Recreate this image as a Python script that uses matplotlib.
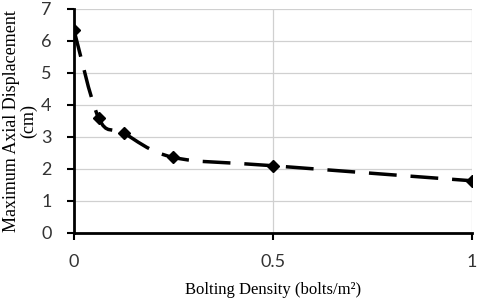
import numpy as np
import matplotlib
matplotlib.use("Agg")
import matplotlib.pyplot as plt
from matplotlib.path import Path
from matplotlib.patches import PathPatch

# bolting density (bolts/m^2) vs maximum axial displacement (cm)
density = [0, 0.0625, 0.125, 0.25, 0.5, 1.0]
displacement = [6.35, 3.58, 3.12, 2.36, 2.10, 1.63]

x_ticks = [0, 0.5, 1]
y_ticks = [0, 1, 2, 3, 4, 5, 6, 7]


def smooth_path(xs, ys, t=1/6):
    # Excel-style smoothed line as cubic bezier segments
    xs = np.asarray(xs, float)
    ys = np.asarray(ys, float)
    n = len(xs)
    verts = [(xs[0], ys[0])]
    codes = [Path.MOVETO]
    for i in range(n - 1):
        p0 = i - 1 if i > 0 else i
        p3 = i + 2 if i + 2 < n else i + 1
        c1 = (xs[i] + (xs[i + 1] - xs[p0]) * t, ys[i] + (ys[i + 1] - ys[p0]) * t)
        c2 = (xs[i + 1] - (xs[p3] - xs[i]) * t, ys[i + 1] - (ys[p3] - ys[i]) * t)
        verts += [c1, c2, (xs[i + 1], ys[i + 1])]
        codes += [Path.CURVE4] * 3
    return Path(verts, codes)


fig = plt.figure(figsize=(4.8, 2.99), dpi=100)
ax = fig.add_axes([0.154, 0.221, 0.829, 0.749])

patch = PathPatch(smooth_path(density, displacement), facecolor="none",
                  edgecolor="black", lw=2.5, linestyle=(0, (8, 4)),
                  capstyle="butt", zorder=3)
ax.add_patch(patch)
ax.plot(density, displacement, linestyle="none", marker="D", ms=6.5,
        color="black", zorder=4)

ax.set_xlim(0, 1)
ax.set_ylim(0, 7)
ax.set_xticks(x_ticks)
ax.set_xticklabels(["0", "0.5", "1"])
ax.set_yticks(y_ticks)

ax.grid(True, color="#d0d0d0", lw=0.9)
ax.set_axisbelow(True)
for s in ["top", "right"]:
    ax.spines[s].set_visible(False)
for s in ["left", "bottom"]:
    ax.spines[s].set_linewidth(2)
    ax.spines[s].set_color("black")
ax.spines["left"].set_zorder(5)
ax.spines["bottom"].set_zorder(5)
ax.spines["bottom"].set_capstyle("projecting")

ax.tick_params(axis="both", direction="out", length=5, width=1.5,
               labelsize=13, colors="black")
ax.tick_params(axis="x", pad=10)
ax.tick_params(axis="y", pad=11)
for lab in ax.get_xticklabels() + ax.get_yticklabels():
    lab.set_fontfamily("Lato")
    lab.set_color("#333333")

ax.set_xlabel("Bolting Density (bolts/m²)", fontfamily="Liberation Serif",
              fontsize=12, labelpad=9)
ax.set_ylabel("Maximum Axial Displacement\n(cm)", fontfamily="Liberation Serif",
              fontsize=13, labelpad=3, linespacing=0.95)

fig.savefig("out.png", dpi=100)
